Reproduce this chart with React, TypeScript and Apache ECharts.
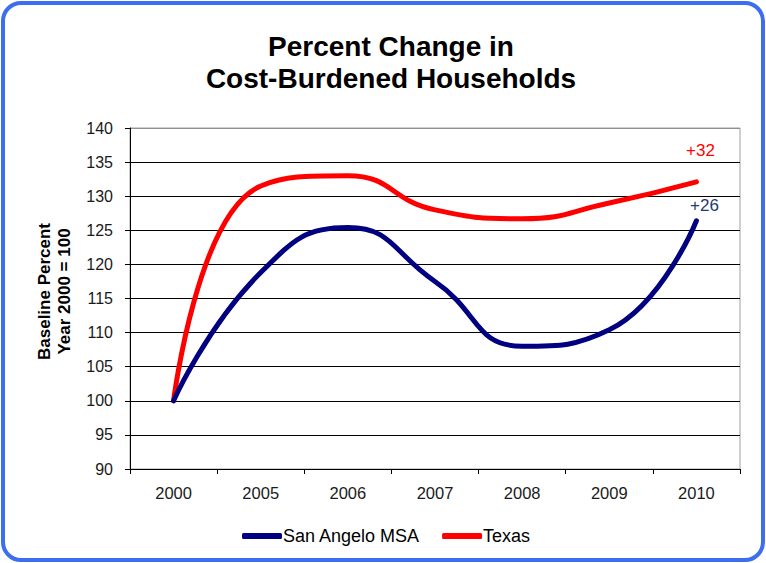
import React, { useEffect, useRef } from "react";
import * as echarts from "echarts";

const categories = ["2000", "2005", "2006", "2007", "2008", "2009", "2010"];
const sanAngelo = [100, 118.8, 125.4, 117.5, 108, 110.4, 126.4];
const texas = [100, 131.5, 133, 128, 126.7, 129, 132.1];
const endLabels = ["+26", "+32"];
const titleText = "Percent Change in\nCost-Burdened Households";
const yAxisTitle = "Baseline Percent\nYear 2000 = 100";

export default function App() {
  const ref = useRef<HTMLDivElement>(null);
  useEffect(() => {
    if (!ref.current) return;
    const chart = echarts.init(ref.current, null, { renderer: "svg" });
    const font = "'Liberation Sans', Arial, sans-serif";
    const gridColors = ["#000", "#000", "#000", "#000", "#000", "#000", "#000", "#000", "#000", "#000", "#909090"];
    chart.setOption({
      animation: false,
      backgroundColor: "#ffffff",
      textStyle: { fontFamily: font },
      graphic: [
        {
          type: "rect",
          shape: { x: 3, y: 3, width: 760, height: 557, r: 18 },
          style: { fill: "none", stroke: "#3d6ef0", lineWidth: 4 },
          silent: true,
          z: 100,
        },
      ],
      title: {
        text: titleText,
        left: 386,
        textAlign: "center",
        top: 25,
        textStyle: { fontFamily: font, fontSize: 28, fontWeight: "bold", color: "#000", lineHeight: 32 },
      },
      legend: {
        top: 527,
        left: 242,
        padding: 0,
        icon: "roundRect",
        itemWidth: 40,
        itemHeight: 6,
        itemGap: 22,
        textStyle: { fontFamily: font, fontSize: 18, color: "#000", padding: [0, 0, 0, -4] },
        data: ["San Angelo MSA", "Texas"],
      },
      grid: { left: 130, right: 26, top: 128, bottom: 94, show: true, borderColor: "#a0a0a0", borderWidth: 1 },
      xAxis: {
        type: "category",
        data: categories,
        boundaryGap: true,
        axisLine: { lineStyle: { color: "#000", width: 1 } },
        axisTick: { show: true, alignWithLabel: false, length: 5, lineStyle: { color: "#000" } },
        axisLabel: { fontFamily: font, fontSize: 16.5, color: "#1a1a1a", margin: 15 },
      },
      yAxis: {
        type: "value",
        min: 90,
        max: 140,
        interval: 5,
        name: yAxisTitle,
        nameLocation: "middle",
        nameGap: 56,
        nameRotate: 90,
        nameTextStyle: {
          fontFamily: font,
          fontSize: 17,
          fontWeight: "bold",
          color: "#000",
          lineHeight: 20,
          padding: [0, 0, 0, 14],
        },
        axisLine: { show: true, lineStyle: { color: "#000", width: 1 } },
        axisTick: { show: true, length: 5, lineStyle: { color: "#000" } },
        axisLabel: { fontFamily: font, fontSize: 16, color: "#1a1a1a", margin: 17 },
        splitLine: { show: true, lineStyle: { color: gridColors, width: 1 } },
      },
      series: [
        {
          name: "San Angelo MSA",
          type: "line",
          data: sanAngelo.map((v, i) =>
            i === sanAngelo.length - 1
              ? {
                  value: v,
                  label: {
                    show: true,
                    formatter: endLabels[0],
                    position: "top",
                    offset: [8, -2],
                    fontFamily: font,
                    fontSize: 17,
                    color: "#1f3a6e",
                  },
                }
              : v
          ),
          smooth: 0.5,
          symbol: "circle",
          symbolSize: 0,
          showSymbol: true,
          showAllSymbol: true,
          color: "#000080",
          lineStyle: { width: 5, color: "#000080", cap: "round" },
          z: 3,
        },
        {
          name: "Texas",
          type: "line",
          data: texas.map((v, i) =>
            i === texas.length - 1
              ? {
                  value: v,
                  label: {
                    show: true,
                    formatter: endLabels[1],
                    position: "top",
                    offset: [4, -18],
                    fontFamily: font,
                    fontSize: 17,
                    color: "#ff0000",
                  },
                }
              : v
          ),
          smooth: 0.5,
          symbol: "circle",
          symbolSize: 0,
          showSymbol: true,
          showAllSymbol: true,
          color: "#ff0000",
          lineStyle: { width: 5, color: "#ff0000", cap: "round" },
          z: 2,
        },
      ],
    });
    return () => chart.dispose();
  }, []);
  return (
    <div
      ref={ref}
      style={{ position: "fixed", left: 0, top: 0, width: 766, height: 563 }}
    />
  );
}
